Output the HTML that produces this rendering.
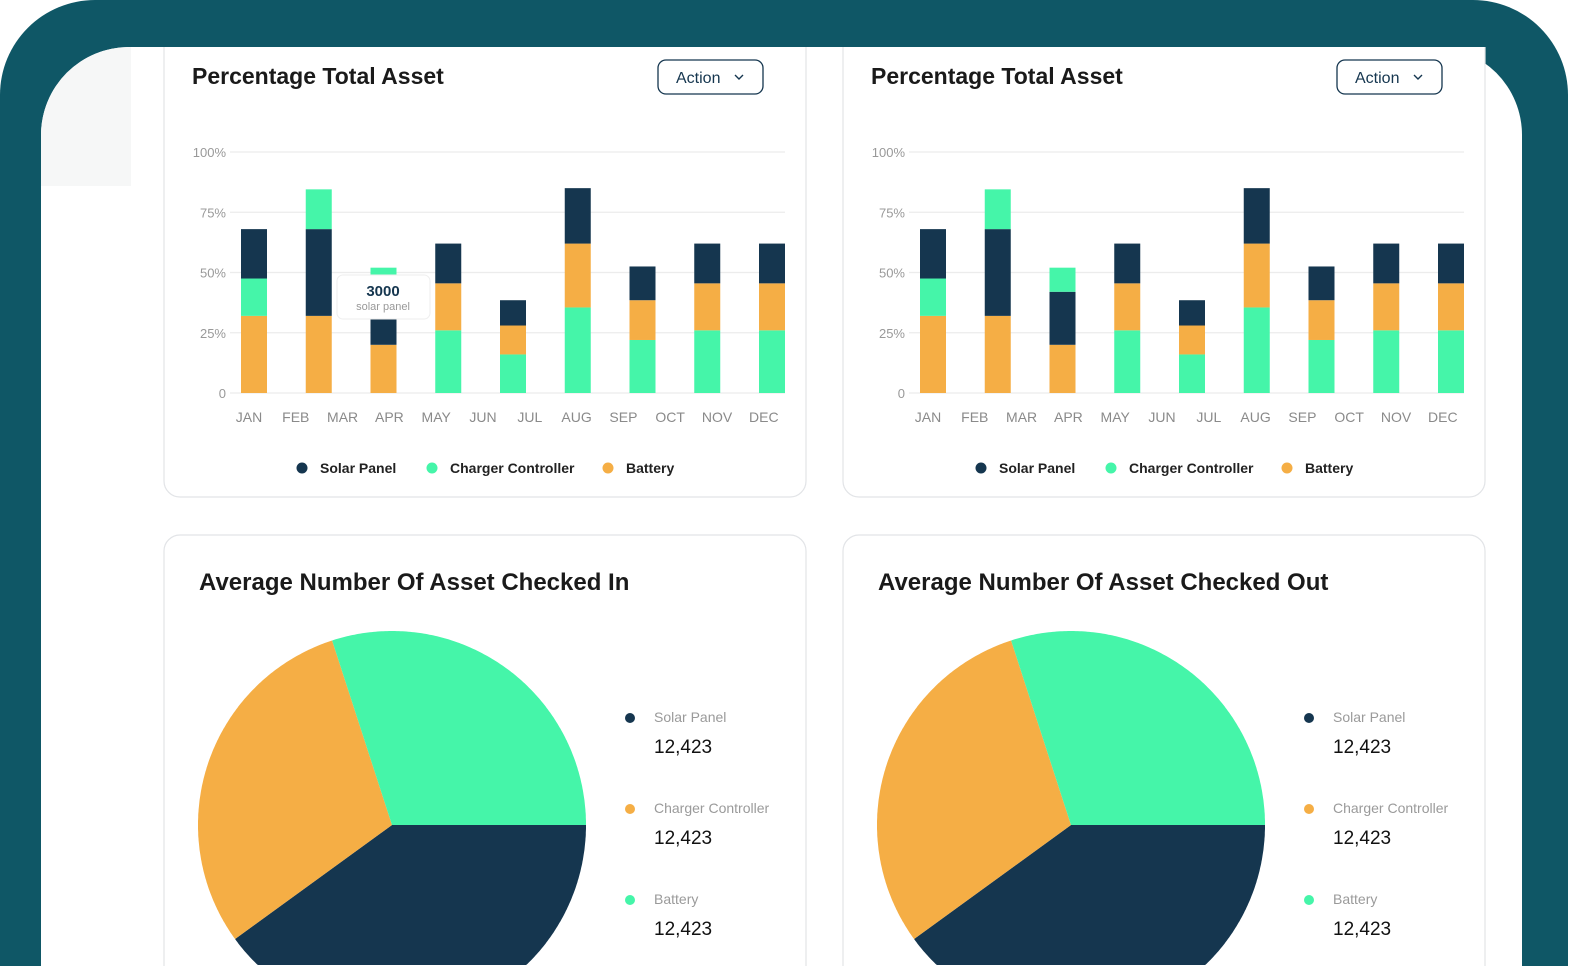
<!DOCTYPE html>
<html><head><meta charset="utf-8"><style>
html,body{margin:0;padding:0;background:#fff;width:1580px;height:966px;overflow:hidden}
svg{display:block;font-family:"Liberation Sans",sans-serif;overflow:hidden}
</style></head><body>
<svg id="s" width="1580" height="966" viewBox="0 0 1580 966">
<path d="M0,966 L0,95 A95,95 0 0 1 95,0 L1473,0 A95,95 0 0 1 1568,95 L1568,966 Z" fill="#0f5766"/>
<path d="M41,966 L41,135 A88,88 0 0 1 129,47 L1434,47 A88,88 0 0 1 1522,135 L1522,966 Z" fill="#ffffff"/>
<path d="M41,186 L41,135 A88,88 0 0 1 129,47 L131,47 L131,186 Z" fill="#f6f7f7"/>
<g id="cards"></g>
<g id="charts"></g>
</svg>
<script>
const NS='http://www.w3.org/2000/svg';
const months=['JAN','FEB','MAR','APR','MAY','JUN','JUL','AUG','SEP','OCT','NOV','DEC'];
const yTicks=[0,25,50,75,100];
const yTickLabels=['0','25%','50%','75%','100%'];
// per-bar segment values (percent), stacking order given in stackOrder
const solar=[20.5,36,22,16.5,10.5,23,14,16.5,16.5];
const charger=[15.5,16.5,10,26,16,35.5,22,26,26];
const battery=[32,32,20,19.5,12,26.5,16.5,19.5,19.5];
const stackOrder=[
 ['battery','charger','solar'],['battery','solar','charger'],['battery','solar','charger'],
 ['charger','battery','solar'],['charger','battery','solar'],['charger','battery','solar'],
 ['charger','battery','solar'],['charger','battery','solar'],['charger','battery','solar']];
const pieLabels=['Solar Panel','Charger Controller','Battery'];
const pieValues=[40,30,30];
const pieDisplay=['12,423','12,423','12,423'];
const COL={solar:'#15364f',charger:'#45f5a9',battery:'#f5ae45'};
const series={solar,charger,battery};

function el(tag,attrs,parent,text){const e=document.createElementNS(NS,tag);for(const k in attrs)e.setAttribute(k,attrs[k]);if(text!==undefined)e.textContent=text;parent.appendChild(e);return e;}
const cards=document.getElementById('cards'), charts=document.getElementById('charts');

function card(d,name){const r=el('path',{d:d,fill:'#fff',stroke:'#e2e4e7','stroke-width':1.2},cards);

}
function topCard(x){return `M${x},47 L${x},481 A16,16 0 0 0 ${x+16},497 L${x+626},497 A16,16 0 0 0 ${x+642},481 L${x+642},47`;}
function botCard(x){return `M${x},966 L${x},551 A16,16 0 0 1 ${x+16},535 L${x+626},535 A16,16 0 0 1 ${x+642},551 L${x+642},966`;}
card(topCard(164),'bar-card-left');card(topCard(843),'bar-card-right');
card(botCard(164),'pie-card-left');card(botCard(843),'pie-card-right');

function barChart(ox,side){
 const g=el('g',{},charts);
 
 
 const t=el('text',{x:192+ox,y:84,'font-size':23,'font-weight':'bold',fill:'#1a1a1a'},g,'Percentage Total Asset');
 
 
 const b=el('g',{},g);
 
 
 el('rect',{x:658+ox,y:60,width:105,height:34,rx:8,fill:'#fff',stroke:'#15364f','stroke-width':1.3},b);
 el('text',{x:676+ox,y:83,'font-size':16,fill:'#15364f'},b,'Action');
 el('path',{d:`M${735+ox},75 l4,4 l4,-4`,fill:'none',stroke:'#15364f','stroke-width':1.4},b);
 const y=v=>393-v*2.41;
 yTicks.forEach((v,i)=>{
  const l=el('line',{x1:230+ox,x2:785+ox,y1:y(v),y2:y(v),stroke:'#ececec','stroke-width':1.3},g);
  
  
  const tx=el('text',{x:226+ox,y:y(v)+5,'font-size':13,fill:'#999','text-anchor':'end'},g,yTickLabels[i]);
  
  
 });
 months.forEach((m,i)=>{
  const tx=el('text',{x:249+ox+i*46.8,y:422,'font-size':14,fill:'#8a8a8a','text-anchor':'middle'},g,m);
  
  
 });
 stackOrder.forEach((ord,i)=>{
  let acc=0;const bx=241+ox+i*64.75;
  ord.forEach(s=>{
   const v=series[s][i];
   const r=el('rect',{x:bx,y:y(acc+v),width:26,height:v*2.41,fill:COL[s]},g);
   
   
   acc+=v;
  });
 });
 const leg=[['solar','Solar Panel',302],['charger','Charger Controller',432],['battery','Battery',608]];
 leg.forEach(([k,lab,x])=>{
  const lg=el('g',{},g);
  
  
  el('circle',{cx:x+ox,cy:468,r:5.5,fill:COL[k]},lg);
  el('text',{x:x+18+ox,y:473,'font-size':14,'font-weight':'bold',fill:'#222'},lg,lab);
 });
 return g;
}
barChart(0,'left');barChart(679,'right');
const tt=el('g',{},charts);


el('rect',{x:337,y:275,width:93,height:44,rx:6,fill:'#fff',stroke:'#eee','stroke-width':1},tt);
el('text',{x:383,y:296,'font-size':15,'font-weight':'bold',fill:'#15364f','text-anchor':'middle'},tt,'3000');
el('text',{x:383,y:310,'font-size':11,fill:'#999','text-anchor':'middle'},tt,'solar panel');

function pie(ox,side,title){
 const g=el('g',{},charts);
 
 
 const t=el('text',{x:199+ox,y:590,'font-size':24,'font-weight':'bold',fill:'#1a1a1a'},g,title);
 
 
 const cx=392+ox,cy=825,R=194;const total=pieValues.reduce((a,b)=>a+b,0);
 const cols=['#15364f','#f5ae45','#45f5a9'];
 const YMAX=965;
 const pt=(x,y)=>[x,Math.min(y,YMAX)];
 let a0=0;
 pieValues.forEach((v,i)=>{
  const a1=a0+v/total*2*Math.PI;
  const pts=[pt(cx,cy)];
  const n=Math.max(2,Math.ceil((a1-a0)/0.01));
  for(let k=0;k<=n;k++){const a=a0+(a1-a0)*k/n;pts.push(pt(cx+R*Math.cos(a),cy+R*Math.sin(a)));}
  const p=el('path',{d:'M'+pts.map(q=>q[0].toFixed(1)+','+q[1].toFixed(1)).join(' L')+' Z',fill:cols[i]},g);
  
  
  a0=a1;
  const lg=el('g',{},g);
  
  
  const ly=717+i*91;
  el('circle',{cx:630+ox,cy:ly+1,r:5,fill:cols[i]},lg);
  el('text',{x:654+ox,y:ly+5,'font-size':14,fill:'#9a9a9a'},lg,pieLabels[i]);
  el('text',{x:654+ox,y:ly+36,'font-size':19,fill:'#111'},lg,pieDisplay[i]);
 });
}
pie(0,'left','Average Number Of Asset Checked In');
pie(679,'right','Average Number Of Asset Checked Out');
</script>
</body></html>
